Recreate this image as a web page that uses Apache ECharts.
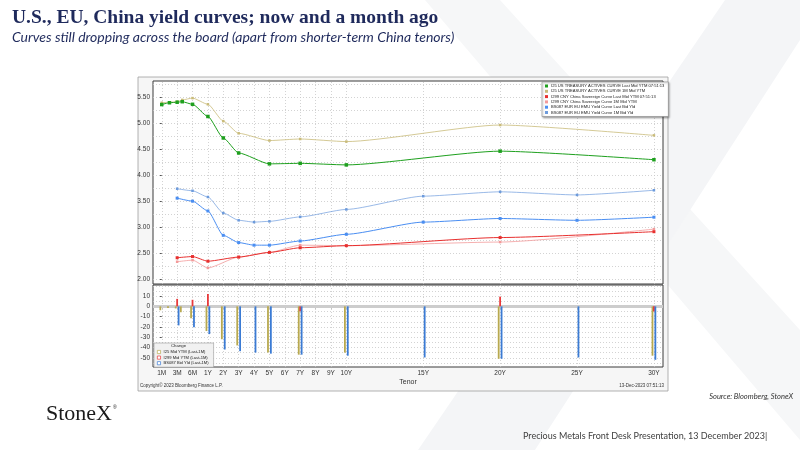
<!DOCTYPE html>
<html>
<head>
<meta charset="UTF-8">
<title>U.S., EU, China yield curves</title>
<style>
  html, body { margin: 0; padding: 0; background: #fff; }
  #chart { width: 800px; height: 450px; }
</style>
</head>
<body>
<div id="chart"></div>
<script src="https://cdn.jsdelivr.net/npm/echarts@6/dist/echarts.min.js"></script>
<script>
// tenor axis (Bloomberg spaces 1M..10Y evenly, then one step per year)
var tenorLabels = ['1M','3M','6M','1Y','2Y','3Y','4Y','5Y','6Y','7Y','8Y','9Y','10Y','15Y','20Y','25Y','30Y'];
var tenorMonths = [1,3,6,12,24,36,48,60,72,84,96,108,120,180,240,300,360];

// I25 US treasury actives, maturities in months
var usMonths = [1,2,3,4,6,12,24,36,60,84,120,240,360];
var usLast   = [5.365,5.40,5.41,5.42,5.37,5.135,4.72,4.43,4.22,4.23,4.20,4.465,4.30];
var us1M     = [5.40,5.41,5.42,5.455,5.49,5.37,5.045,4.81,4.67,4.70,4.65,4.97,4.77];
var usChange = [-3.8,-1.6,-2,-5.7,-11.5,-24,-32,-38,-45,-47,-45,-51,-48];

// I299 CNY China sovereign
var cnMonths = [3,6,12,36,60,84,120,240,360];
var cnLast   = [2.407,2.43,2.34,2.42,2.51,2.60,2.64,2.797,2.91];
var cn1M     = [2.33,2.36,2.21,2.42,2.51,2.65,2.64,2.71,2.96];
var cnChange = [7.3,6.4,12.1,0,0,-4.8,0,9.5,-5];

// EUR EU EMU curve
var euMonths = [3,6,12,24,36,48,60,84,120,180,240,300,360];
var euLast   = [3.558,3.50,3.31,2.84,2.70,2.65,2.65,2.73,2.86,3.095,3.165,3.13,3.19];
var eu1M     = [3.74,3.70,3.58,3.27,3.13,3.095,3.11,3.196,3.34,3.596,3.68,3.62,3.71];
var euChange = [-18.5,-20.4,-27,-42,-43.6,-45,-46,-47,-48,-49.7,-51,-49.7,-52];

var yTicksTop = [2, 2.5, 3, 3.5, 4, 4.5, 5, 5.5];
var yTicksBottom = [10, 0, -10, -20, -30, -40, -50];

var tickSlots = tenorMonths.map(function (m, i) {
  return m <= 120 ? i : 12 + (m - 120) / 12;
});
// piecewise linear position of a maturity on the tenor axis
function slot(m) {
  for (var i = 1; i < tenorMonths.length; i++) {
    if (m <= tenorMonths[i]) {
      var a = tenorMonths[i - 1], b = tenorMonths[i];
      return tickSlots[i - 1] + (m - a) / (b - a) * (tickSlots[i] - tickSlots[i - 1]);
    }
  }
  return tickSlots[tickSlots.length - 1];
}
function pairs(months, vals) {
  return months.map(function (m, i) { return [slot(m), vals[i]]; });
}

var names = [
  'I25 US TREASURY ACTIVES CURVE Last Mid YTM 07:51:13',
  'I25 US TREASURY ACTIVES CURVE 1M Mid YTM',
  'I299 CNY China Sovereign Curve Last Mid YTM 07:51:13',
  'I299 CNY China Sovereign Curve 1M Mid YTM',
  'BS087 EUR EU EMU Yield Curve Last Bid Yld',
  'BS087 EUR EU EMU Yield Curve 1M Bid Yld'
];
var barNames = ['I25 Mid YTM (Last-1M)', 'I299 Mid YTM (Last-1M)', 'BS087 Bid Yld (Last-1M)'];
var barColors = ['#b8a94f', '#e8393a', '#3b7bd4'];

var chart = echarts.init(document.getElementById('chart'));

function gridLines(xi, yi, yVals) {
  var d = tickSlots.map(function (s) { return { xAxis: s }; });
  yVals.forEach(function (v) { d.push({ yAxis: v }); });
  return {
    type: 'line', xAxisIndex: xi, yAxisIndex: yi, data: [], silent: true, z: 1,
    markLine: {
      z: 1, silent: true, symbol: 'none', animation: false, label: { show: false },
      lineStyle: { color: '#c8c8c8', type: [1, 2], width: 0.8 },
      data: d
    }
  };
}

var topGridVals = [];
for (var v = 2; v < 5.8; v += 0.25) topGridVals.push(+v.toFixed(2));
var botGridVals = [];
for (var w = -55; w <= 20; w += 5) if (w !== 0) botGridVals.push(w);

function lineSeries(name, months, vals, color, width, size) {
  return {
    name: name, type: 'line', xAxisIndex: 0, yAxisIndex: 0, z: 3,
    data: pairs(months, vals), smooth: 0.2, smoothMonotone: 'x',
    symbol: 'rect', symbolSize: size,
    lineStyle: { color: color, width: width },
    itemStyle: { color: color }
  };
}
function barSeries(i, months, vals) {
  return {
    name: barNames[i], type: 'bar', xAxisIndex: 1, yAxisIndex: 1, z: 3,
    data: pairs(months, vals), barWidth: 1.8, barGap: '-20%',
    itemStyle: { color: barColors[i] }
  };
}

var lbl = { fontSize: 6.5, color: '#333', fontFamily: 'Liberation Sans' };

option = {
  animation: false,
  title: {
    text: 'U.S., EU, China yield curves; now and a month ago',
    subtext: 'Curves still dropping across the board (apart from shorter-term China tenors)',
    left: 7, top: 3, itemGap: 2,
    textStyle: { fontFamily: 'Liberation Serif', fontWeight: 'bold', fontSize: 19.5, color: '#1f2a5c' },
    subtextStyle: { fontFamily: 'Lato', fontStyle: 'italic', fontSize: 14, color: '#1f2a5c' }
  },
  grid: [
    { left: 153, top: 81, width: 510, height: 203, show: true, backgroundColor: '#fff', borderColor: '#3a3a3a', borderWidth: 1 },
    { left: 153, top: 285, width: 510, height: 82, show: true, backgroundColor: '#fff', borderColor: '#3a3a3a', borderWidth: 1 }
  ],
  xAxis: [
    { type: 'value', gridIndex: 0, min: -0.57, max: 32.59,
      axisLabel: { show: false }, axisTick: { show: false }, axisLine: { show: false }, splitLine: { show: false } },
    { type: 'value', gridIndex: 1, min: -0.57, max: 32.59,
      name: 'Tenor', nameLocation: 'middle', nameGap: 12,
      nameTextStyle: { fontSize: 7, color: '#333', fontFamily: 'Liberation Sans' },
      axisLine: { show: false }, splitLine: { show: false },
      axisTick: { show: true, customValues: tickSlots, length: 2, lineStyle: { color: '#555' } },
      axisLabel: Object.assign({ customValues: tickSlots, margin: 3,
        formatter: function (v) { var i = tickSlots.indexOf(v); return i < 0 ? '' : tenorLabels[i]; } }, lbl) }
  ],
  yAxis: [
    { type: 'value', gridIndex: 0, min: 1.9, max: 5.82,
      axisLine: { show: false }, splitLine: { show: false },
      axisTick: { show: true, customValues: yTicksTop, length: 2, lineStyle: { color: '#555' } },
      axisLabel: Object.assign({ customValues: yTicksTop, margin: 3,
        formatter: function (v) { return v.toFixed(2); } }, lbl) },
    { type: 'value', gridIndex: 1, min: -59, max: 20.8,
      axisLine: { show: false }, splitLine: { show: false },
      axisTick: { show: true, customValues: yTicksBottom, length: 2, lineStyle: { color: '#555' } },
      axisLabel: Object.assign({ customValues: yTicksBottom, margin: 3 }, lbl) }
  ],
  legend: [
    { data: names, orient: 'vertical', left: 542, top: 82, icon: 'rect',
      itemWidth: 3, itemHeight: 3, itemGap: 1.3, padding: [2, 4, 2, 3],
      backgroundColor: '#fff', borderColor: '#8a8a8a', borderWidth: 0.6,
      shadowBlur: 2, shadowColor: 'rgba(0,0,0,0.35)', shadowOffsetX: 1, shadowOffsetY: 1,
      selectedMode: false,
      textStyle: { fontSize: 4.1, color: '#222', fontFamily: 'Liberation Sans', padding: [0, 0, 0, -2] } },
    { data: barNames.map(function (n, i) {
        return { name: n, itemStyle: { color: '#fff', borderColor: barColors[i], borderWidth: 0.7 } };
      }),
      orient: 'vertical', left: 154, top: 343, icon: 'rect',
      itemWidth: 3.2, itemHeight: 3.2, itemGap: 1.6, padding: [7, 5, 2, 3],
      backgroundColor: '#f1f1f1', borderColor: '#999', borderWidth: 0.6,
      selectedMode: false,
      textStyle: { fontSize: 4.1, color: '#222', fontFamily: 'Liberation Sans', padding: [0, 0, 0, -2] } }
  ],
  graphic: [
    // faint StoneX watermark
    { type: 'polygon', z: -20, silent: true,
      shape: { points: [[425, 0], [500, 0], [800, 330], [800, 440]] }, style: { fill: '#f6f7f8' } },
    { type: 'polygon', z: -20, silent: true,
      shape: { points: [[725, 0], [800, 0], [800, 40], [535, 450], [418, 450]] }, style: { fill: '#f4f5f7' } },
    // Bloomberg frame
    { type: 'rect', z: -10, silent: true, shape: { x: 138, y: 77, width: 530, height: 314 },
      style: { fill: '#f6f6f6', stroke: '#a0a0a0', lineWidth: 0.8 } },
    { type: 'text', z: 5, left: 140, top: 383,
      style: { text: 'Copyright\u00a9 2023 Bloomberg Finance L.P.', fontSize: 4.5, fill: '#333', fontFamily: 'Liberation Sans' } },
    { type: 'text', z: 5, right: 136, top: 383,
      style: { text: '13-Dec-2023 07:51:13', fontSize: 4.5, fill: '#333', fontFamily: 'Liberation Sans' } },
    { type: 'text', z: 10, left: 171, top: 344,
      style: { text: 'Change', fontSize: 4.3, fill: '#222', fontFamily: 'Liberation Sans' } },
    // slide furniture
    { type: 'text', right: 7, top: 393,
      style: { text: 'Source: Bloomberg, StoneX', fontSize: 7.5, fontStyle: 'italic', fill: '#333', fontFamily: 'Lato' } },
    { type: 'text', left: 46, top: 403,
      style: { text: 'StoneX', fontSize: 22, fill: '#1a1a1a', fontFamily: 'Liberation Serif' } },
    { type: 'text', left: 113, top: 405,
      style: { text: '\u00ae', fontSize: 5, fill: '#1a1a1a', fontFamily: 'Liberation Sans' } },
    { type: 'text', left: 523, top: 432,
      style: { text: 'Precious Metals Front Desk Presentation, 13 December 2023|', fontSize: 9, fill: '#404040', fontFamily: 'Lato' } }
  ],
  series: [
    gridLines(0, 0, topGridVals),
    gridLines(1, 1, botGridVals),
    {
      type: 'line', xAxisIndex: 1, yAxisIndex: 1, data: [], silent: true, z: 2,
      markLine: { z: 2, silent: true, symbol: 'none', animation: false, label: { show: false },
        lineStyle: { color: '#cdcdcd', type: 'solid', width: 3 }, data: [{ yAxis: 0 }] }
    },
    lineSeries(names[1], usMonths, us1M, '#c9bb7a', 0.8, 2.5),
    lineSeries(names[0], usMonths, usLast, '#1ea01e', 1, 3.5),
    lineSeries(names[3], cnMonths, cn1M, '#f29a9a', 0.8, 2.5),
    lineSeries(names[2], cnMonths, cnLast, '#e8302f', 1, 3),
    lineSeries(names[5], euMonths, eu1M, '#6d9bdc', 0.7, 2.5),
    lineSeries(names[4], euMonths, euLast, '#4a8ef2', 1, 3),
    barSeries(0, usMonths, usChange),
    barSeries(1, cnMonths, cnChange),
    barSeries(2, euMonths, euChange)
  ]
};

chart.setOption(option);
</script>
</body>
</html>
